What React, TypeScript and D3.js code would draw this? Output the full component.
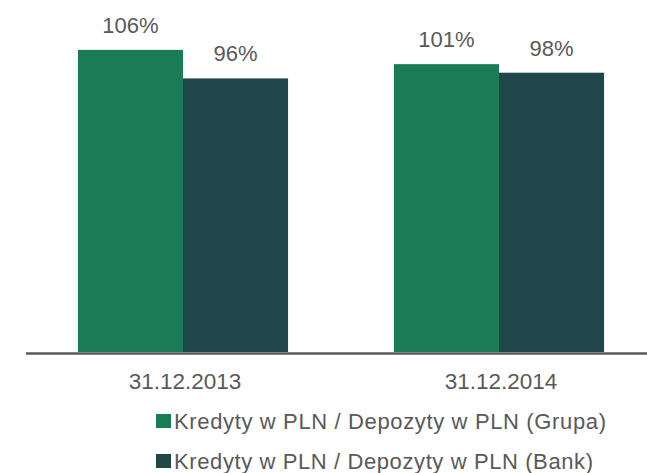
import React, { useEffect, useRef } from "react";
import * as d3 from "d3";

// chart data
const categories = ["31.12.2013", "31.12.2014"];
const seriesNames = [
  "Kredyty w PLN / Depozyty w PLN (Grupa)",
  "Kredyty w PLN / Depozyty w PLN (Bank)",
];
const grupaValues = [106, 101];
const bankValues = [96, 98];
const colors = ["#1a7b57", "#1f474a"];

const width = 647;
const height = 473;

function App() {
  const svgRef = useRef<SVGSVGElement>(null);

  useEffect(() => {
    const svg = d3.select(svgRef.current);
    svg.selectAll("*").remove();

    const font = "'Liberation Sans', Arial, sans-serif";
    const textColor = "#595959";

    const rows = categories.map((c, i) => ({
      category: c,
      values: [grupaValues[i], bankValues[i]],
    }));

    const x = d3
      .scaleBand()
      .domain(categories)
      .range([25, 657])
      .paddingInner(0.335)
      .paddingOuter(0.1675);

    const xInner = d3
      .scaleBand()
      .domain(seriesNames)
      .range([0, x.bandwidth()]);

    const y = d3.scaleLinear().domain([0, 120]).range([352, 10]);

    const groups = svg
      .selectAll(".group")
      .data(rows)
      .enter()
      .append("g")
      .attr("class", "group")
      .attr("transform", (d) => `translate(${x(d.category)},0)`);

    const cells = groups
      .selectAll(".cell")
      .data((d) => d.values.map((v, j) => ({ name: seriesNames[j], value: v, j })))
      .enter();

    cells
      .append("rect")
      .attr("x", (d) => xInner(d.name)!)
      .attr("y", (d) => y(d.value))
      .attr("width", xInner.bandwidth())
      .attr("height", (d) => y(0) - y(d.value))
      .attr("fill", (d) => colors[d.j]);

    cells
      .append("text")
      .attr("x", (d) => xInner(d.name)! + xInner.bandwidth() / 2)
      .attr("y", (d) => y(d.value) - 17)
      .attr("text-anchor", "middle")
      .attr("font-family", font)
      .attr("font-size", 22)
      .attr("fill", textColor)
      .text((d) => Math.round(d.value) + "%");

    // baseline
    svg
      .append("line")
      .attr("x1", 26)
      .attr("x2", width)
      .attr("y1", y(0) + 1.5)
      .attr("y2", y(0) + 1.5)
      .attr("stroke", "#58595b")
      .attr("stroke-width", 2.7);

    // category labels
    svg
      .selectAll(".xlabel")
      .data(categories)
      .enter()
      .append("text")
      .attr("class", "xlabel")
      .attr("x", (d) => x(d)! + x.bandwidth() / 2 + 2)
      .attr("y", 389)
      .attr("text-anchor", "middle")
      .attr("font-family", font)
      .attr("font-size", 22.5)
      .attr("fill", textColor)
      .text((d) => d);

    // legend
    const legend = svg
      .selectAll(".legend")
      .data(seriesNames)
      .enter()
      .append("g")
      .attr("class", "legend")
      .attr("transform", (d, i) => `translate(156,${414 + i * 40})`);

    legend
      .append("rect")
      .attr("width", 15)
      .attr("height", 14)
      .attr("fill", (d, i) => colors[i]);

    legend
      .append("text")
      .attr("x", 18)
      .attr("y", 14.5)
      .attr("font-family", font)
      .attr("font-size", 22)
      .attr("fill", textColor)
      .attr("textLength", (d, i) => (i === 0 ? 432 : 419))
      .attr("lengthAdjust", "spacing")
      .text((d) => d);
  }, []);

  return (
    <svg
      ref={svgRef}
      width={width}
      height={height}
      style={{ position: "absolute", left: 0, top: 0, background: "#fff" }}
    />
  );
}

export default App;
